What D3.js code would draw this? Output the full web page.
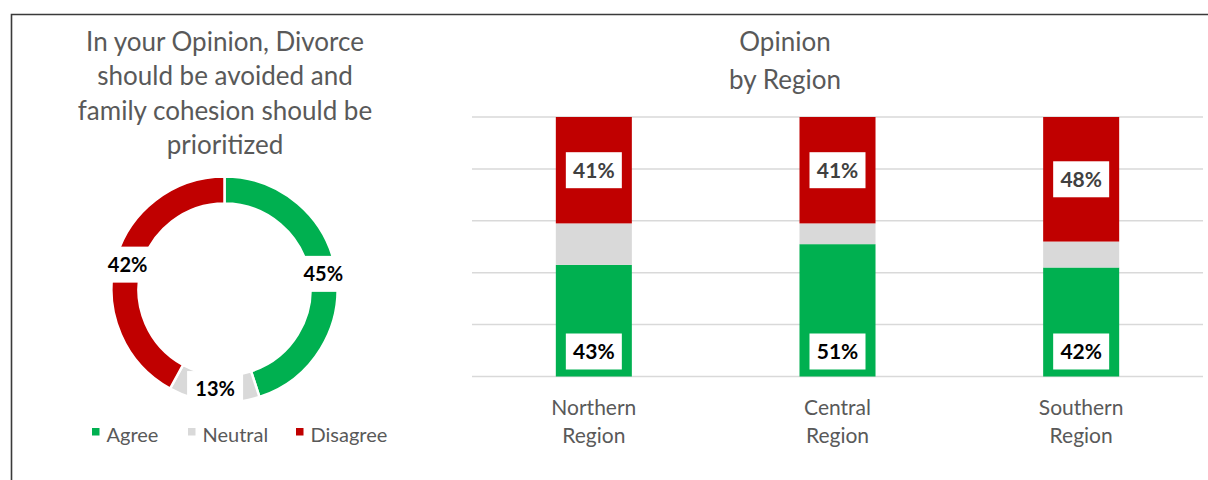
<!DOCTYPE html>
<html><head><meta charset="utf-8">
<script src="https://cdn.jsdelivr.net/npm/d3@7"></script>
<style>body{margin:0;background:#fff;} svg{display:block;font-family:Lato, sans-serif;}</style>
</head><body><svg id="c" width="1208" height="480"></svg>
<script>
const donutCategories = ["Agree", "Neutral", "Disagree"];
const donutValues = [45, 13, 42];
const donutTitle = ["In your Opinion, Divorce", "should be avoided and", "family cohesion should be", "prioritized"];
const barTitle = ["Opinion", "by Region"];
const regions = ["Northern Region", "Central Region", "Southern Region"];
const agreeValues = [43, 51, 42];
const neutralValues = [16, 8, 10];
const disagreeValues = [41, 41, 48];
const yTicks = [0, 20, 40, 60, 80, 100];
const colorList = ["#00B050", "#D9D9D9", "#C00000"];

const svg = d3.select("#c");
const textColor = "#595959";
const color = d3.scaleOrdinal().domain(donutCategories).range(colorList);

// frame
svg.append("path").attr("d", "M11.5,480V14.5H1208").attr("fill", "none")
  .attr("stroke", "#3a3a3a").attr("stroke-width", 1.6);

// ---------- Donut ----------
svg.append("g").selectAll("text").data(donutTitle).join("text")
  .attr("x", 225).attr("y", (d, i) => 51 + i * 34.3)
  .attr("text-anchor", "middle").attr("font-size", 26).attr("fill", textColor).text(d => d);

const cx = 224.5, cy = 289.5, rOut = 113, rIn = 86;
const pie = d3.pie().sort(null).value(d => d.v);
const pdata = pie(donutCategories.map((c, i) => ({c, v: donutValues[i]})));
const arc = d3.arc().innerRadius(rIn).outerRadius(rOut);
const labelArc = d3.arc().innerRadius(100).outerRadius(100);
const dg = svg.append("g").attr("transform", `translate(${cx},${cy})`);
dg.selectAll("path").data(pdata).join("path")
  .attr("d", arc).attr("fill", d => color(d.data.c))
  .attr("stroke", "#fff").attr("stroke-width", 2.5);
const dl = dg.selectAll("g.lab").data(pdata).join("g").attr("class", "lab")
  .attr("transform", d => `translate(${labelArc.centroid(d)})`);
dl.append("rect").attr("x", -28).attr("y", -18).attr("width", 56).attr("height", 36).attr("fill", "#fff");
dl.append("text").attr("text-anchor", "middle").attr("dy", "0.36em")
  .attr("font-size", 20).attr("font-weight", 700).attr("fill", "#000")
  .text(d => d.data.v + "%");

// legend
const legX = [92, 188, 296];
const lg = svg.append("g").selectAll("g").data(donutCategories).join("g")
  .attr("transform", (d, i) => `translate(${legX[i]},0)`);
lg.append("rect").attr("x", 0).attr("y", 428).attr("width", 7.5).attr("height", 7.5).attr("fill", d => color(d));
lg.append("text").attr("x", 14.5).attr("y", 441.5).attr("font-size", 20).attr("fill", textColor).text(d => d);

// ---------- Stacked bars ----------
svg.append("g").selectAll("text").data(barTitle).join("text")
  .attr("x", 785).attr("y", (d, i) => 51 + i * 38)
  .attr("text-anchor", "middle").attr("font-size", 26).attr("fill", textColor).text(d => d);

const x = d3.scaleBand().domain(regions).range([472, 1203]).paddingInner(0.688).paddingOuter(0.344);
const y = d3.scaleLinear().domain([0, 100]).range([376.5, 117]);

svg.append("g").selectAll("line").data(yTicks).join("line")
  .attr("x1", 472).attr("x2", 1203).attr("y1", d => y(d)).attr("y2", d => y(d))
  .attr("stroke", "#D9D9D9").attr("stroke-width", 1.5);

const rows = regions.map((r, i) => ({region: r, Agree: agreeValues[i], Neutral: neutralValues[i], Disagree: disagreeValues[i]}));
const series = d3.stack().keys(donutCategories)(rows);
const bg = svg.append("g");
series.forEach(s => {
  bg.append("g").selectAll("rect").data(s).join("rect")
    .attr("x", d => x(d.data.region)).attr("width", x.bandwidth())
    .attr("y", d => y(d[1])).attr("height", d => y(d[0]) - y(d[1]))
    .attr("fill", color(s.key));
});

function barLabel(key, posFn, fill) {
  const s = series.find(q => q.key === key);
  const g = svg.append("g").selectAll("g").data(s).join("g")
    .attr("transform", d => `translate(${x(d.data.region) + x.bandwidth() / 2},${posFn(d)})`);
  g.append("rect").attr("x", -28).attr("y", -18).attr("width", 56).attr("height", 36).attr("fill", "#fff");
  g.append("text").attr("text-anchor", "middle").attr("dy", "0.36em")
    .attr("font-size", 21).attr("font-weight", 700).attr("fill", fill)
    .text(d => d.data[key] + "%");
}
barLabel("Agree", d => y(d[0]) - 25, "#000");
barLabel("Disagree", d => (y(d[0]) + y(d[1])) / 2, "#404040");

// x axis labels
const xl = svg.append("g").selectAll("text").data(regions).join("text")
  .attr("x", d => x(d) + x.bandwidth() / 2).attr("y", 414.5)
  .attr("text-anchor", "middle").attr("font-size", 21).attr("fill", textColor);
xl.selectAll("tspan").data(d => d.split(" ")).join("tspan")
  .attr("x", function () { return d3.select(this.parentNode).attr("x"); })
  .attr("dy", (d, i) => i === 0 ? 0 : 28).text(d => d);
</script></body></html>
